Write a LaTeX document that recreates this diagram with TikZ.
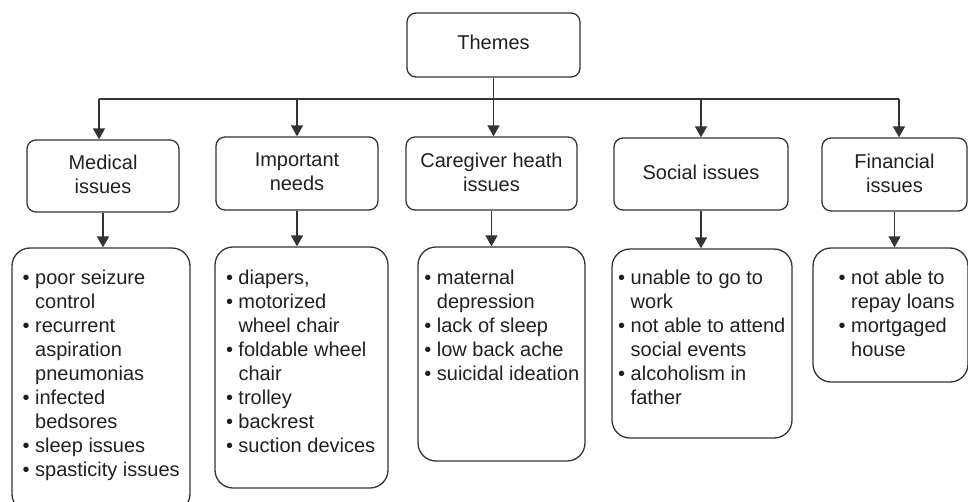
\documentclass[tikz,border=0pt]{standalone}
\usepackage{fontspec}
\setmainfont{Liberation Sans}
\usetikzlibrary{arrows.meta}
\definecolor{lncol}{HTML}{333333}
\definecolor{txcol}{HTML}{231F20}
\newcommand{\bl}{\makebox[12.5pt][l]{\textbullet}}
\newcommand{\cl}{\hspace*{12.5pt}}
\begin{document}
\begin{tikzpicture}[x=1pt,y=-1pt,
  box/.style={draw=lncol, line width=1.3pt, rounded corners=9pt, align=center,
    font=\fontsize{20}{24}\selectfont, text=txcol, inner sep=0pt, text depth=3pt},
  lbox/.style={draw=lncol, line width=1.3pt, rounded corners=18pt, inner sep=0pt},
  ltxt/.style={anchor=base west, inner sep=0pt, text=txcol, font=\fontsize{20}{24}\selectfont},
  arr/.style={draw=lncol, line width=1.3pt, -{Triangle[length=11pt,width=12pt]}},
  bus/.style={draw=lncol, line width=1.3pt}]
\clip (0,0) rectangle (968,501);
% top
\node[box, minimum width=173pt, minimum height=64pt, text depth=6pt] (themes) at (493.5,45) {Themes};
% level 2
\node[box, minimum width=152pt, minimum height=72pt] (medical) at (103,176) {Medical\\issues};
\node[box, minimum width=162pt, minimum height=73pt] (important) at (297,173.5) {Important\\needs};
\node[box, minimum width=171pt, minimum height=73pt] (care) at (491.5,173.5) {Caregiver heath\\issues};
\node[box, minimum width=174pt, minimum height=72pt] (social) at (701,174) {Social issues};
\node[box, minimum width=145pt, minimum height=73pt] (financial) at (894.5,174.5) {Financial\\issues};
% level 3 boxes
\node[lbox, minimum width=178pt, minimum height=264pt] (mlist) at (101,380) {};
\node[lbox, minimum width=173pt, minimum height=241pt] (ilist) at (301.5,367.5) {};
\node[lbox, minimum width=167pt, minimum height=214pt] (clist) at (501.5,354) {};
\node[lbox, minimum width=180pt, minimum height=189pt] (slist) at (702,343.5) {};
\node[lbox, minimum width=155pt, minimum height=134pt] (flist) at (890.5,315) {};
% list texts
\node[ltxt] (mtxt) at (22.5,284) {\begin{tabular}[t]{@{}l@{}}
\bl poor seizure\\ \cl control\\ \bl recurrent\\ \cl aspiration\\ \cl pneumonias\\
\bl infected\\ \cl bedsores\\ \bl sleep issues\\ \bl spasticity issues\end{tabular}};
\node[ltxt] (itxt) at (225.8,284) {\begin{tabular}[t]{@{}l@{}}
\bl diapers,\\ \bl motorized\\ \cl wheel chair\\ \bl foldable wheel\\ \cl chair\\
\bl trolley\\ \bl backrest\\ \bl suction devices\end{tabular}};
\node[ltxt] (ctxt) at (424.2,284) {\begin{tabular}[t]{@{}l@{}}
\bl maternal\\ \cl depression\\ \bl lack of sleep\\ \bl low back ache\\ \bl suicidal ideation\end{tabular}};
\node[ltxt] (stxt) at (618,284) {\begin{tabular}[t]{@{}l@{}}
\bl unable to go to\\ \cl work\\ \bl not able to attend\\ \cl social events\\ \bl alcoholism in\\ \cl father\end{tabular}};
\node[ltxt] (ftxt) at (838.5,284) {\begin{tabular}[t]{@{}l@{}}
\bl not able to\\ \cl repay loans\\ \bl mortgaged\\ \cl house\end{tabular}};
% connectors
\coordinate (busL) at (99,99);
\coordinate (busR) at (899,99);
\draw[bus] (busL) -- (busR);
\draw[arr] (themes.south) -- (themes.south |- care.north);
\draw[arr] (busL) -- (busL |- medical.north);
\draw[arr] (important.north |- busL) -- (important.north);
\draw[arr] (social.north |- busL) -- (social.north);
\draw[arr] (busR) -- (busR |- financial.north);
\draw[arr] (medical.south) -- (medical.south |- mlist.north);
\draw[arr] (important.south) -- (important.south |- ilist.north);
\draw[arr] (care.south) -- (care.south |- clist.north);
\draw[arr] (social.south) -- (social.south |- slist.north);
\draw[arr] (financial.south) -- (financial.south |- flist.north);
\end{tikzpicture}
\end{document}
